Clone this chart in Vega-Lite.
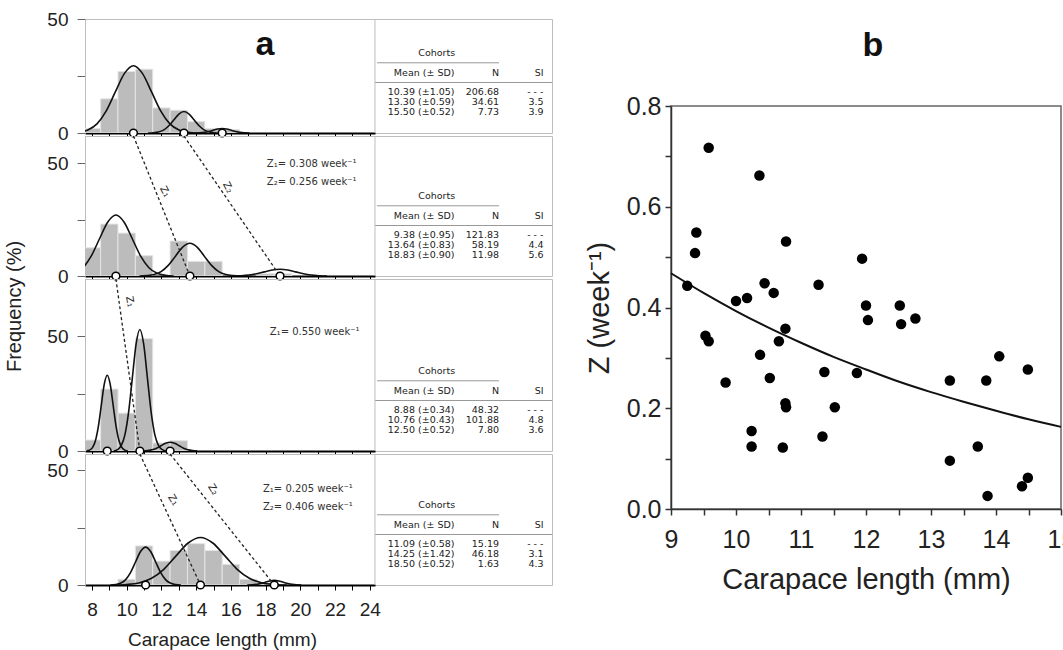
{
  "$schema": "https://vega.github.io/schema/vega-lite/v6.json",
  "padding": {"left": 5, "top": 9, "right": 0, "bottom": 0},
  "config": {
    "font": "Liberation Sans",
    "view": {"stroke": "#bdbdbd", "strokeWidth": 1},
    "axis": {"grid": false, "labelOverlap": false, "labelFlush": false, "labelColor": "#222", "titleColor": "#222", "titleFontWeight": "normal", "labelFont": "Liberation Sans", "titleFont": "Liberation Sans"}
  },
  "datasets": {
    "bars": [
      {"date": "Apr 16", "L": 7.5, "hi": 8.5, "f": 2},
      {"date": "Apr 16", "L": 8.5, "hi": 9.5, "f": 15},
      {"date": "Apr 16", "L": 9.5, "hi": 10.5, "f": 27},
      {"date": "Apr 16", "L": 10.5, "hi": 11.5, "f": 28},
      {"date": "Apr 16", "L": 11.5, "hi": 12.5, "f": 11},
      {"date": "Apr 16", "L": 12.5, "hi": 13.5, "f": 10},
      {"date": "Apr 16", "L": 13.5, "hi": 14.5, "f": 5},
      {"date": "Apr 16", "L": 14.5, "hi": 15.5, "f": 2},
      {"date": "Apr 16", "L": 15.5, "hi": 16.5, "f": 1.5},
      {"date": "May 15", "L": 7.5, "hi": 8.5, "f": 12.5},
      {"date": "May 15", "L": 8.5, "hi": 9.5, "f": 23},
      {"date": "May 15", "L": 9.5, "hi": 10.5, "f": 19},
      {"date": "May 15", "L": 10.5, "hi": 11.5, "f": 9},
      {"date": "May 15", "L": 12.5, "hi": 13.5, "f": 15.5},
      {"date": "May 15", "L": 13.5, "hi": 14.5, "f": 6.5},
      {"date": "May 15", "L": 14.5, "hi": 15.5, "f": 6.5},
      {"date": "May 15", "L": 17.5, "hi": 18.5, "f": 1},
      {"date": "May 15", "L": 18.5, "hi": 19.5, "f": 1},
      {"date": "Jun 15", "L": 7.5, "hi": 8.5, "f": 4.8},
      {"date": "Jun 15", "L": 8.5, "hi": 9.5, "f": 27},
      {"date": "Jun 15", "L": 9.5, "hi": 10.5, "f": 16.5},
      {"date": "Jun 15", "L": 10.5, "hi": 11.5, "f": 49},
      {"date": "Jun 15", "L": 11.5, "hi": 12.5, "f": 3.5},
      {"date": "Jun 15", "L": 12.5, "hi": 13.5, "f": 4.5},
      {"date": "Jul 16", "L": 9.5, "hi": 10.5, "f": 2.5},
      {"date": "Jul 16", "L": 10.5, "hi": 11.5, "f": 17},
      {"date": "Jul 16", "L": 11.5, "hi": 12.5, "f": 10.4},
      {"date": "Jul 16", "L": 12.5, "hi": 13.5, "f": 15},
      {"date": "Jul 16", "L": 13.5, "hi": 14.5, "f": 18},
      {"date": "Jul 16", "L": 14.5, "hi": 15.5, "f": 15},
      {"date": "Jul 16", "L": 15.5, "hi": 16.5, "f": 9},
      {"date": "Jul 16", "L": 16.5, "hi": 17.5, "f": 2.5},
      {"date": "Jul 16", "L": 17.5, "hi": 18.5, "f": 1}
    ],
    "curves": [
      {"date": "Apr 16", "c": 1, "L": 6.715, "f": 0}, {"date": "Apr 16", "c": 1, "L": 7.24, "f": 0.33}, {"date": "Apr 16", "c": 1, "L": 7.765, "f": 1.3}, {"date": "Apr 16", "c": 1, "L": 8.29, "f": 3.99}, {"date": "Apr 16", "c": 1, "L": 8.815, "f": 9.58}, {"date": "Apr 16", "c": 1, "L": 9.34, "f": 17.89}, {"date": "Apr 16", "c": 1, "L": 9.865, "f": 26.03}, {"date": "Apr 16", "c": 1, "L": 10.39, "f": 29.5}, {"date": "Apr 16", "c": 1, "L": 10.915, "f": 26.03}, {"date": "Apr 16", "c": 1, "L": 11.44, "f": 17.89}, {"date": "Apr 16", "c": 1, "L": 11.965, "f": 9.58}, {"date": "Apr 16", "c": 1, "L": 12.49, "f": 3.99}, {"date": "Apr 16", "c": 1, "L": 13.015, "f": 1.3}, {"date": "Apr 16", "c": 1, "L": 13.54, "f": 0.33}, {"date": "Apr 16", "c": 1, "L": 14.065, "f": 0},
      {"date": "Apr 16", "c": 2, "L": 11.235, "f": 0}, {"date": "Apr 16", "c": 2, "L": 11.53, "f": 0.1}, {"date": "Apr 16", "c": 2, "L": 11.825, "f": 0.41}, {"date": "Apr 16", "c": 2, "L": 12.12, "f": 1.27}, {"date": "Apr 16", "c": 2, "L": 12.415, "f": 3.05}, {"date": "Apr 16", "c": 2, "L": 12.71, "f": 5.7}, {"date": "Apr 16", "c": 2, "L": 13.005, "f": 8.3}, {"date": "Apr 16", "c": 2, "L": 13.3, "f": 9.4}, {"date": "Apr 16", "c": 2, "L": 13.595, "f": 8.3}, {"date": "Apr 16", "c": 2, "L": 13.89, "f": 5.7}, {"date": "Apr 16", "c": 2, "L": 14.185, "f": 3.05}, {"date": "Apr 16", "c": 2, "L": 14.48, "f": 1.27}, {"date": "Apr 16", "c": 2, "L": 14.775, "f": 0.41}, {"date": "Apr 16", "c": 2, "L": 15.07, "f": 0.1}, {"date": "Apr 16", "c": 2, "L": 15.365, "f": 0},
      {"date": "Apr 16", "c": 3, "L": 13.94, "f": 0}, {"date": "Apr 16", "c": 3, "L": 14.2, "f": 0.09}, {"date": "Apr 16", "c": 3, "L": 14.46, "f": 0.27}, {"date": "Apr 16", "c": 3, "L": 14.72, "f": 0.65}, {"date": "Apr 16", "c": 3, "L": 14.98, "f": 1.21}, {"date": "Apr 16", "c": 3, "L": 15.24, "f": 1.77}, {"date": "Apr 16", "c": 3, "L": 15.5, "f": 2.0}, {"date": "Apr 16", "c": 3, "L": 15.76, "f": 1.77}, {"date": "Apr 16", "c": 3, "L": 16.02, "f": 1.21}, {"date": "Apr 16", "c": 3, "L": 16.28, "f": 0.65}, {"date": "Apr 16", "c": 3, "L": 16.54, "f": 0.27}, {"date": "Apr 16", "c": 3, "L": 16.8, "f": 0.09}, {"date": "Apr 16", "c": 3, "L": 17.06, "f": 0},
      {"date": "May 15", "c": 1, "L": 6.055, "f": 0}, {"date": "May 15", "c": 1, "L": 6.53, "f": 0.3}, {"date": "May 15", "c": 1, "L": 7.005, "f": 1.19}, {"date": "May 15", "c": 1, "L": 7.48, "f": 3.65}, {"date": "May 15", "c": 1, "L": 7.955, "f": 8.77}, {"date": "May 15", "c": 1, "L": 8.43, "f": 16.38}, {"date": "May 15", "c": 1, "L": 8.905, "f": 23.83}, {"date": "May 15", "c": 1, "L": 9.38, "f": 27}, {"date": "May 15", "c": 1, "L": 9.855, "f": 23.83}, {"date": "May 15", "c": 1, "L": 10.33, "f": 16.38}, {"date": "May 15", "c": 1, "L": 10.805, "f": 8.77}, {"date": "May 15", "c": 1, "L": 11.28, "f": 3.65}, {"date": "May 15", "c": 1, "L": 11.755, "f": 1.19}, {"date": "May 15", "c": 1, "L": 12.23, "f": 0.3}, {"date": "May 15", "c": 1, "L": 12.705, "f": 0},
      {"date": "May 15", "c": 2, "L": 10.735, "f": 0}, {"date": "May 15", "c": 2, "L": 11.15, "f": 0.16}, {"date": "May 15", "c": 2, "L": 11.565, "f": 0.64}, {"date": "May 15", "c": 2, "L": 11.98, "f": 1.96}, {"date": "May 15", "c": 2, "L": 12.395, "f": 4.71}, {"date": "May 15", "c": 2, "L": 12.81, "f": 8.79}, {"date": "May 15", "c": 2, "L": 13.225, "f": 12.8}, {"date": "May 15", "c": 2, "L": 13.64, "f": 14.5}, {"date": "May 15", "c": 2, "L": 14.055, "f": 12.8}, {"date": "May 15", "c": 2, "L": 14.47, "f": 8.79}, {"date": "May 15", "c": 2, "L": 14.885, "f": 4.71}, {"date": "May 15", "c": 2, "L": 15.3, "f": 1.96}, {"date": "May 15", "c": 2, "L": 15.715, "f": 0.64}, {"date": "May 15", "c": 2, "L": 16.13, "f": 0.16}, {"date": "May 15", "c": 2, "L": 16.545, "f": 0},
      {"date": "May 15", "c": 3, "L": 16.13, "f": 0}, {"date": "May 15", "c": 3, "L": 16.58, "f": 0.13}, {"date": "May 15", "c": 3, "L": 17.03, "f": 0.41}, {"date": "May 15", "c": 3, "L": 17.48, "f": 0.97}, {"date": "May 15", "c": 3, "L": 17.93, "f": 1.82}, {"date": "May 15", "c": 3, "L": 18.38, "f": 2.65}, {"date": "May 15", "c": 3, "L": 18.83, "f": 3.0}, {"date": "May 15", "c": 3, "L": 19.28, "f": 2.65}, {"date": "May 15", "c": 3, "L": 19.73, "f": 1.82}, {"date": "May 15", "c": 3, "L": 20.18, "f": 0.97}, {"date": "May 15", "c": 3, "L": 20.63, "f": 0.41}, {"date": "May 15", "c": 3, "L": 21.08, "f": 0.13}, {"date": "May 15", "c": 3, "L": 21.53, "f": 0},
      {"date": "Jun 15", "c": 1, "L": 7.69, "f": 0.07}, {"date": "Jun 15", "c": 1, "L": 7.86, "f": 0.37}, {"date": "Jun 15", "c": 1, "L": 8.03, "f": 1.45}, {"date": "Jun 15", "c": 1, "L": 8.2, "f": 4.47}, {"date": "Jun 15", "c": 1, "L": 8.37, "f": 10.72}, {"date": "Jun 15", "c": 1, "L": 8.54, "f": 20.01}, {"date": "Jun 15", "c": 1, "L": 8.71, "f": 29.12}, {"date": "Jun 15", "c": 1, "L": 8.88, "f": 33}, {"date": "Jun 15", "c": 1, "L": 9.05, "f": 29.12}, {"date": "Jun 15", "c": 1, "L": 9.22, "f": 20.01}, {"date": "Jun 15", "c": 1, "L": 9.39, "f": 10.72}, {"date": "Jun 15", "c": 1, "L": 9.56, "f": 4.47}, {"date": "Jun 15", "c": 1, "L": 9.73, "f": 1.45}, {"date": "Jun 15", "c": 1, "L": 9.9, "f": 0.37}, {"date": "Jun 15", "c": 1, "L": 10.07, "f": 0},
      {"date": "Jun 15", "c": 2, "L": 9.255, "f": 0}, {"date": "Jun 15", "c": 2, "L": 9.47, "f": 0.59}, {"date": "Jun 15", "c": 2, "L": 9.685, "f": 2.33}, {"date": "Jun 15", "c": 2, "L": 9.9, "f": 7.17}, {"date": "Jun 15", "c": 2, "L": 10.115, "f": 17.21}, {"date": "Jun 15", "c": 2, "L": 10.33, "f": 32.14}, {"date": "Jun 15", "c": 2, "L": 10.545, "f": 46.77}, {"date": "Jun 15", "c": 2, "L": 10.76, "f": 53}, {"date": "Jun 15", "c": 2, "L": 10.975, "f": 46.77}, {"date": "Jun 15", "c": 2, "L": 11.19, "f": 32.14}, {"date": "Jun 15", "c": 2, "L": 11.405, "f": 17.21}, {"date": "Jun 15", "c": 2, "L": 11.62, "f": 7.17}, {"date": "Jun 15", "c": 2, "L": 11.835, "f": 2.33}, {"date": "Jun 15", "c": 2, "L": 12.05, "f": 0.59}, {"date": "Jun 15", "c": 2, "L": 12.265, "f": 0},
      {"date": "Jun 15", "c": 3, "L": 10.94, "f": 0}, {"date": "Jun 15", "c": 3, "L": 11.2, "f": 0.17}, {"date": "Jun 15", "c": 3, "L": 11.46, "f": 0.51}, {"date": "Jun 15", "c": 3, "L": 11.72, "f": 1.23}, {"date": "Jun 15", "c": 3, "L": 11.98, "f": 2.3}, {"date": "Jun 15", "c": 3, "L": 12.24, "f": 3.35}, {"date": "Jun 15", "c": 3, "L": 12.5, "f": 3.8}, {"date": "Jun 15", "c": 3, "L": 12.76, "f": 3.35}, {"date": "Jun 15", "c": 3, "L": 13.02, "f": 2.3}, {"date": "Jun 15", "c": 3, "L": 13.28, "f": 1.23}, {"date": "Jun 15", "c": 3, "L": 13.54, "f": 0.51}, {"date": "Jun 15", "c": 3, "L": 13.8, "f": 0.17}, {"date": "Jun 15", "c": 3, "L": 14.06, "f": 0},
      {"date": "Jul 16", "c": 1, "L": 9.06, "f": 0}, {"date": "Jul 16", "c": 1, "L": 9.35, "f": 0.18}, {"date": "Jul 16", "c": 1, "L": 9.64, "f": 0.72}, {"date": "Jul 16", "c": 1, "L": 9.93, "f": 2.23}, {"date": "Jul 16", "c": 1, "L": 10.22, "f": 5.36}, {"date": "Jul 16", "c": 1, "L": 10.51, "f": 10.01}, {"date": "Jul 16", "c": 1, "L": 10.8, "f": 14.56}, {"date": "Jul 16", "c": 1, "L": 11.09, "f": 16.5}, {"date": "Jul 16", "c": 1, "L": 11.38, "f": 14.56}, {"date": "Jul 16", "c": 1, "L": 11.67, "f": 10.01}, {"date": "Jul 16", "c": 1, "L": 11.96, "f": 5.36}, {"date": "Jul 16", "c": 1, "L": 12.25, "f": 2.23}, {"date": "Jul 16", "c": 1, "L": 12.54, "f": 0.72}, {"date": "Jul 16", "c": 1, "L": 12.83, "f": 0.18}, {"date": "Jul 16", "c": 1, "L": 13.12, "f": 0},
      {"date": "Jul 16", "c": 2, "L": 9.28, "f": 0}, {"date": "Jul 16", "c": 2, "L": 9.99, "f": 0.23}, {"date": "Jul 16", "c": 2, "L": 10.7, "f": 0.91}, {"date": "Jul 16", "c": 2, "L": 11.41, "f": 2.8}, {"date": "Jul 16", "c": 2, "L": 12.12, "f": 6.72}, {"date": "Jul 16", "c": 2, "L": 12.83, "f": 12.55}, {"date": "Jul 16", "c": 2, "L": 13.54, "f": 18.27}, {"date": "Jul 16", "c": 2, "L": 14.25, "f": 20.7}, {"date": "Jul 16", "c": 2, "L": 14.96, "f": 18.27}, {"date": "Jul 16", "c": 2, "L": 15.67, "f": 12.55}, {"date": "Jul 16", "c": 2, "L": 16.38, "f": 6.72}, {"date": "Jul 16", "c": 2, "L": 17.09, "f": 2.8}, {"date": "Jul 16", "c": 2, "L": 17.8, "f": 0.91}, {"date": "Jul 16", "c": 2, "L": 18.51, "f": 0.23}, {"date": "Jul 16", "c": 2, "L": 19.22, "f": 0},
      {"date": "Jul 16", "c": 3, "L": 16.94, "f": 0}, {"date": "Jul 16", "c": 3, "L": 17.2, "f": 0.09}, {"date": "Jul 16", "c": 3, "L": 17.46, "f": 0.27}, {"date": "Jul 16", "c": 3, "L": 17.72, "f": 0.65}, {"date": "Jul 16", "c": 3, "L": 17.98, "f": 1.21}, {"date": "Jul 16", "c": 3, "L": 18.24, "f": 1.77}, {"date": "Jul 16", "c": 3, "L": 18.5, "f": 2.0}, {"date": "Jul 16", "c": 3, "L": 18.76, "f": 1.77}, {"date": "Jul 16", "c": 3, "L": 19.02, "f": 1.21}, {"date": "Jul 16", "c": 3, "L": 19.28, "f": 0.65}, {"date": "Jul 16", "c": 3, "L": 19.54, "f": 0.27}, {"date": "Jul 16", "c": 3, "L": 19.8, "f": 0.09}, {"date": "Jul 16", "c": 3, "L": 20.06, "f": 0}
    ],
    "means": [
      {"date": "Apr 16", "L": 10.39, "f": 0}, {"date": "Apr 16", "L": 13.3, "f": 0}, {"date": "Apr 16", "L": 15.5, "f": 0},
      {"date": "May 15", "L": 9.38, "f": 0}, {"date": "May 15", "L": 13.64, "f": 0}, {"date": "May 15", "L": 18.83, "f": 0},
      {"date": "Jun 15", "L": 8.88, "f": 0}, {"date": "Jun 15", "L": 10.76, "f": 0}, {"date": "Jun 15", "L": 12.5, "f": 0},
      {"date": "Jul 16", "L": 11.09, "f": 0}, {"date": "Jul 16", "L": 14.25, "f": 0}, {"date": "Jul 16", "L": 18.5, "f": 0}
    ],
    "links": [
      {"date": "May 15", "link": "a", "L": 10.39, "f": 62}, {"date": "May 15", "link": "a", "L": 13.64, "f": 0},
      {"date": "May 15", "link": "b", "L": 13.3, "f": 62}, {"date": "May 15", "link": "b", "L": 18.83, "f": 0},
      {"date": "Jun 15", "link": "a", "L": 9.38, "f": 75}, {"date": "Jun 15", "link": "a", "L": 10.76, "f": 0},
      {"date": "Jul 16", "link": "a", "L": 10.76, "f": 57}, {"date": "Jul 16", "link": "a", "L": 14.25, "f": 0},
      {"date": "Jul 16", "link": "b", "L": 12.5, "f": 57}, {"date": "Jul 16", "link": "b", "L": 18.5, "f": 0}
    ],
    "notes": [
      {"date": "May 15", "label": "Z₁= 0.308 week⁻¹", "L": 18.07, "f": 49.4},
      {"date": "May 15", "label": "Z₂= 0.256 week⁻¹", "L": 18.07, "f": 41.8},
      {"date": "Jun 15", "label": "Z₁= 0.550 week⁻¹", "L": 18.24, "f": 52},
      {"date": "Jul 16", "label": "Z₁= 0.205 week⁻¹", "L": 17.85, "f": 41.7},
      {"date": "Jul 16", "label": "Z₂= 0.406 week⁻¹", "L": 17.85, "f": 33.8}
    ],
    "zlab": [
      {"date": "May 15", "label": "Z₁", "L": 12.2, "f": 37.4},
      {"date": "May 15", "label": "Z₂", "L": 15.83, "f": 39.2},
      {"date": "Jun 15", "label": "Z₁", "L": 10.19, "f": 65.2},
      {"date": "Jul 16", "label": "Z₁", "L": 12.68, "f": 37},
      {"date": "Jul 16", "label": "Z₂", "L": 14.98, "f": 41.6}
    ],
    "cells": [
      {"date": "Apr 16", "slot": "r1", "column": "Mean (± SD)", "text": "10.39 (±1.05)"}, {"date": "Apr 16", "slot": "r1", "column": "N", "text": "206.68"}, {"date": "Apr 16", "slot": "r1", "column": "SI", "text": "- - -"},
      {"date": "Apr 16", "slot": "r2", "column": "Mean (± SD)", "text": "13.30 (±0.59)"}, {"date": "Apr 16", "slot": "r2", "column": "N", "text": "34.61"}, {"date": "Apr 16", "slot": "r2", "column": "SI", "text": "3.5"},
      {"date": "Apr 16", "slot": "r3", "column": "Mean (± SD)", "text": "15.50 (±0.52)"}, {"date": "Apr 16", "slot": "r3", "column": "N", "text": "7.73"}, {"date": "Apr 16", "slot": "r3", "column": "SI", "text": "3.9"},
      {"date": "May 15", "slot": "r1", "column": "Mean (± SD)", "text": "9.38 (±0.95)"}, {"date": "May 15", "slot": "r1", "column": "N", "text": "121.83"}, {"date": "May 15", "slot": "r1", "column": "SI", "text": "- - -"},
      {"date": "May 15", "slot": "r2", "column": "Mean (± SD)", "text": "13.64 (±0.83)"}, {"date": "May 15", "slot": "r2", "column": "N", "text": "58.19"}, {"date": "May 15", "slot": "r2", "column": "SI", "text": "4.4"},
      {"date": "May 15", "slot": "r3", "column": "Mean (± SD)", "text": "18.83 (±0.90)"}, {"date": "May 15", "slot": "r3", "column": "N", "text": "11.98"}, {"date": "May 15", "slot": "r3", "column": "SI", "text": "5.6"},
      {"date": "Jun 15", "slot": "r1", "column": "Mean (± SD)", "text": "8.88 (±0.34)"}, {"date": "Jun 15", "slot": "r1", "column": "N", "text": "48.32"}, {"date": "Jun 15", "slot": "r1", "column": "SI", "text": "- - -"},
      {"date": "Jun 15", "slot": "r2", "column": "Mean (± SD)", "text": "10.76 (±0.43)"}, {"date": "Jun 15", "slot": "r2", "column": "N", "text": "101.88"}, {"date": "Jun 15", "slot": "r2", "column": "SI", "text": "4.8"},
      {"date": "Jun 15", "slot": "r3", "column": "Mean (± SD)", "text": "12.50 (±0.52)"}, {"date": "Jun 15", "slot": "r3", "column": "N", "text": "7.80"}, {"date": "Jun 15", "slot": "r3", "column": "SI", "text": "3.6"},
      {"date": "Jul 16", "slot": "r1", "column": "Mean (± SD)", "text": "11.09 (±0.58)"}, {"date": "Jul 16", "slot": "r1", "column": "N", "text": "15.19"}, {"date": "Jul 16", "slot": "r1", "column": "SI", "text": "- - -"},
      {"date": "Jul 16", "slot": "r2", "column": "Mean (± SD)", "text": "14.25 (±1.42)"}, {"date": "Jul 16", "slot": "r2", "column": "N", "text": "46.18"}, {"date": "Jul 16", "slot": "r2", "column": "SI", "text": "3.1"},
      {"date": "Jul 16", "slot": "r3", "column": "Mean (± SD)", "text": "18.50 (±0.52)"}, {"date": "Jul 16", "slot": "r3", "column": "N", "text": "1.63"}, {"date": "Jul 16", "slot": "r3", "column": "SI", "text": "4.3"}
    ],
    "thead": [
      {"slot": "header", "column": "Mean (± SD)", "text": "Mean (± SD)"},
      {"slot": "header", "column": "N", "text": "N"},
      {"slot": "header", "column": "SI", "text": "SI"}
    ],
    "tcoh": [{"slot": "cohorts", "column": "Mean (± SD)", "text": "Cohorts"}],
    "trule1": [{"slot": "rule1", "column": "Mean (± SD)", "column2": "N"}],
    "trule2": [{"slot": "rule2", "column": "Mean (± SD)", "column2": "SI"}],
    "tdiv": [{"column": "Mean (± SD)"}],
    "scatter": [
      {"L": 9.58, "Z": 0.717}, {"L": 10.36, "Z": 0.662}, {"L": 9.39, "Z": 0.549}, {"L": 9.37, "Z": 0.508},
      {"L": 10.77, "Z": 0.531}, {"L": 11.94, "Z": 0.497}, {"L": 9.25, "Z": 0.443}, {"L": 10.44, "Z": 0.448},
      {"L": 10.58, "Z": 0.429}, {"L": 11.27, "Z": 0.445}, {"L": 10.0, "Z": 0.413}, {"L": 10.17, "Z": 0.419},
      {"L": 12.0, "Z": 0.404}, {"L": 12.52, "Z": 0.404}, {"L": 12.03, "Z": 0.375}, {"L": 12.54, "Z": 0.367},
      {"L": 12.76, "Z": 0.378}, {"L": 10.76, "Z": 0.358}, {"L": 10.66, "Z": 0.333}, {"L": 9.53, "Z": 0.344},
      {"L": 9.58, "Z": 0.333}, {"L": 10.37, "Z": 0.306}, {"L": 14.05, "Z": 0.303}, {"L": 9.84, "Z": 0.251},
      {"L": 10.52, "Z": 0.26}, {"L": 11.36, "Z": 0.272}, {"L": 11.86, "Z": 0.27}, {"L": 13.29, "Z": 0.255},
      {"L": 13.85, "Z": 0.255}, {"L": 14.49, "Z": 0.277}, {"L": 10.76, "Z": 0.21}, {"L": 10.77, "Z": 0.202},
      {"L": 11.52, "Z": 0.202}, {"L": 10.24, "Z": 0.155}, {"L": 10.24, "Z": 0.124}, {"L": 10.72, "Z": 0.122},
      {"L": 11.33, "Z": 0.144}, {"L": 13.29, "Z": 0.096}, {"L": 13.72, "Z": 0.124}, {"L": 13.87, "Z": 0.026},
      {"L": 14.4, "Z": 0.045}, {"L": 14.49, "Z": 0.062}
    ],
    "fit": [
      {"L": 9, "Z": 0.468}, {"L": 9.5, "Z": 0.429}, {"L": 10, "Z": 0.393}, {"L": 10.5, "Z": 0.36},
      {"L": 11, "Z": 0.33}, {"L": 11.5, "Z": 0.302}, {"L": 12, "Z": 0.277}, {"L": 12.5, "Z": 0.253},
      {"L": 13, "Z": 0.232}, {"L": 13.5, "Z": 0.213}, {"L": 14, "Z": 0.195}, {"L": 14.5, "Z": 0.178},
      {"L": 15, "Z": 0.163}
    ]
  },
  "spacing": 31,
  "hconcat": [
    {
      "spacing": 3,
      "bounds": "flush",
      "title": {"text": "Frequency (%)", "orient": "left", "anchor": "middle", "fontSize": 20, "fontWeight": "normal", "font": "Liberation Sans", "color": "#222", "offset": 21, "dx": 23},
      "vconcat": [
        {
          "width": 467, "height": 114,
          "resolve": {"scale": {"x": "independent", "y": "independent"}},
          "layer": [
            {
              "encoding": {
                "x": {"field": "L", "type": "quantitative", "scale": {"domain": [7.6, 24.3], "range": [0, 290], "nice": false, "zero": false},
                      "axis": {"values": [8,9,10,11,12,13,14,15,16,17,18,19,20,21,22,23,24], "labels": false, "title": null, "domainColor": "#000", "domainWidth": 2, "tickColor": "#000", "tickSize": 3}},
                "y": {"field": "f", "type": "quantitative", "scale": {"domain": [0, 50], "nice": false},
                      "axis": {"values": [0, 25, 50], "labelExpr": "datum.value == 25 ? '' : datum.label", "title": null, "tickSize": 8, "tickColor": "#666", "domainColor": "#bdbdbd", "labelFontSize": 19, "labelPadding": 9}}
              },
              "layer": [
                {"data": {"name": "bars"}, "transform": [{"filter": "datum.date == 'Apr 16'"}], "mark": {"type": "rect", "fill": "#bcbcbc", "stroke": "#e4e4e4", "strokeWidth": 1, "clip": true}, "encoding": {"x2": {"field": "hi"}, "y2": {"datum": 0}}},
                {"data": {"name": "curves"}, "transform": [{"filter": "datum.date == 'Apr 16'"}], "mark": {"type": "line", "interpolate": "monotone", "color": "#111", "strokeWidth": 1.6, "clip": true}, "encoding": {"detail": {"field": "c", "type": "nominal"}}},
                {"data": {"name": "means"}, "transform": [{"filter": "datum.date == 'Apr 16'"}], "mark": {"type": "point", "shape": "circle", "filled": true, "fill": "white", "stroke": "black", "strokeWidth": 1.5, "size": 60, "opacity": 1}},
                {"data": {"values": [{"date": "Apr 16"}]}, "mark": {"type": "text", "align": "right", "baseline": "bottom", "dy": -3, "fontWeight": "bold", "fontSize": 10, "font": "DejaVu Sans", "color": "#222"}, "encoding": {"x": {"datum": 24.1}, "y": {"value": "height"}, "text": {"field": "date"}}},
                {"data": {"values": [{"panel": "a", "L": 17.96, "f": 38.6}]}, "mark": {"type": "text", "fontSize": 34, "fontWeight": "bold", "baseline": "middle", "color": "#111"}, "encoding": {"text": {"field": "panel"}}}
              ]
            },
            {
              "layer": [
                {"data": {"name": "cells"}, "transform": [{"filter": "datum.date == 'Apr 16'"}], "mark": {"type": "text", "align": "right", "baseline": "middle", "fontSize": 9.5, "font": "DejaVu Sans", "color": "#222"},
                 "encoding": {"x": {"field": "column", "type": "nominal", "bandPosition": 1, "scale": {"type": "band", "domain": ["Mean (± SD)", "N", "SI"], "range": [325, 458.5], "paddingInner": 0, "paddingOuter": 0}, "axis": null},
                              "y": {"field": "slot", "type": "nominal", "scale": {"type": "point", "domain": ["cohorts", "rule1", "header", "rule2", "r1", "r2", "r3"], "range": [29, 98]}, "axis": null},
                              "text": {"field": "text"}}},
                {"data": {"name": "thead"}, "mark": {"type": "text", "align": "right", "baseline": "middle", "fontSize": 9.5, "font": "DejaVu Sans", "color": "#222"},
                 "encoding": {"x": {"field": "column", "type": "nominal", "bandPosition": 1}, "y": {"field": "slot", "type": "nominal"}, "text": {"field": "text"}}},
                {"data": {"name": "tcoh"}, "mark": {"type": "text", "align": "center", "baseline": "middle", "fontSize": 9.5, "font": "DejaVu Sans", "color": "#222"},
                 "encoding": {"x": {"field": "column", "type": "nominal", "bandPosition": 0.6}, "y": {"field": "slot", "type": "nominal"}, "text": {"field": "text"}}},
                {"data": {"name": "trule1"}, "mark": {"type": "rule", "color": "#999", "strokeWidth": 1},
                 "encoding": {"x": {"field": "column", "type": "nominal", "bandPosition": -0.74}, "x2": {"field": "column2", "bandPosition": 1}, "y": {"field": "slot", "type": "nominal"}}},
                {"data": {"name": "trule2"}, "mark": {"type": "rule", "color": "#999", "strokeWidth": 1},
                 "encoding": {"x": {"field": "column", "type": "nominal", "bandPosition": -0.787}, "x2": {"field": "column2", "bandPosition": 1.19}, "y": {"field": "slot", "type": "nominal"}}},
                {"data": {"name": "tdiv"}, "mark": {"type": "rule", "color": "#bdbdbd", "strokeWidth": 1},
                 "encoding": {"x": {"field": "column", "type": "nominal", "bandPosition": -0.787}}}
              ]
            }
          ]
        },
        {
          "width": 467, "height": 140,
          "resolve": {"scale": {"x": "independent", "y": "independent"}},
          "layer": [
            {
              "encoding": {
                "x": {"field": "L", "type": "quantitative", "scale": {"domain": [7.6, 24.3], "range": [0, 290], "nice": false, "zero": false},
                      "axis": {"values": [8,9,10,11,12,13,14,15,16,17,18,19,20,21,22,23,24], "labels": false, "title": null, "domainColor": "#000", "domainWidth": 2, "tickColor": "#000", "tickSize": 3}},
                "y": {"field": "f", "type": "quantitative", "scale": {"domain": [0, 62], "nice": false},
                      "axis": {"values": [0, 25, 50], "labelExpr": "datum.value == 25 ? '' : datum.label", "title": null, "tickSize": 8, "tickColor": "#666", "domainColor": "#bdbdbd", "labelFontSize": 19, "labelPadding": 9}}
              },
              "layer": [
                {"data": {"name": "bars"}, "transform": [{"filter": "datum.date == 'May 15'"}], "mark": {"type": "rect", "fill": "#bcbcbc", "stroke": "#e4e4e4", "strokeWidth": 1, "clip": true}, "encoding": {"x2": {"field": "hi"}, "y2": {"datum": 0}}},
                {"data": {"name": "curves"}, "transform": [{"filter": "datum.date == 'May 15'"}], "mark": {"type": "line", "interpolate": "monotone", "color": "#111", "strokeWidth": 1.6, "clip": true}, "encoding": {"detail": {"field": "c", "type": "nominal"}}},
                {"data": {"name": "links"}, "transform": [{"filter": "datum.date == 'May 15'"}], "mark": {"type": "line", "strokeDash": [3, 2.5], "color": "#222", "strokeWidth": 1.3}, "encoding": {"detail": {"field": "link", "type": "nominal"}}},
                {"data": {"name": "means"}, "transform": [{"filter": "datum.date == 'May 15'"}], "mark": {"type": "point", "shape": "circle", "filled": true, "fill": "white", "stroke": "black", "strokeWidth": 1.5, "size": 60, "opacity": 1}},
                {"data": {"values": [{"date": "May 15"}]}, "mark": {"type": "text", "align": "right", "baseline": "bottom", "dy": -3, "fontWeight": "bold", "fontSize": 10, "font": "DejaVu Sans", "color": "#222"}, "encoding": {"x": {"datum": 24.1}, "y": {"value": "height"}, "text": {"field": "date"}}},
                {"data": {"name": "notes"}, "transform": [{"filter": "datum.date == 'May 15'"}], "mark": {"type": "text", "align": "left", "baseline": "middle", "fontSize": 10, "font": "DejaVu Sans", "color": "#333"}, "encoding": {"text": {"field": "label"}}},
                {"data": {"name": "zlab"}, "transform": [{"filter": "datum.date == 'May 15'"}], "mark": {"type": "text", "align": "center", "baseline": "middle", "angle": 62, "fontSize": 10, "font": "DejaVu Sans", "color": "#222"}, "encoding": {"text": {"field": "label"}}}
              ]
            },
            {
              "layer": [
                {"data": {"name": "cells"}, "transform": [{"filter": "datum.date == 'May 15'"}], "mark": {"type": "text", "align": "right", "baseline": "middle", "fontSize": 9.5, "font": "DejaVu Sans", "color": "#222"},
                 "encoding": {"x": {"field": "column", "type": "nominal", "bandPosition": 1, "scale": {"type": "band", "domain": ["Mean (± SD)", "N", "SI"], "range": [325, 458.5], "paddingInner": 0, "paddingOuter": 0}, "axis": null},
                              "y": {"field": "slot", "type": "nominal", "scale": {"type": "point", "domain": ["cohorts", "rule1", "header", "rule2", "r1", "r2", "r3"], "range": [55, 124]}, "axis": null},
                              "text": {"field": "text"}}},
                {"data": {"name": "thead"}, "mark": {"type": "text", "align": "right", "baseline": "middle", "fontSize": 9.5, "font": "DejaVu Sans", "color": "#222"},
                 "encoding": {"x": {"field": "column", "type": "nominal", "bandPosition": 1}, "y": {"field": "slot", "type": "nominal"}, "text": {"field": "text"}}},
                {"data": {"name": "tcoh"}, "mark": {"type": "text", "align": "center", "baseline": "middle", "fontSize": 9.5, "font": "DejaVu Sans", "color": "#222"},
                 "encoding": {"x": {"field": "column", "type": "nominal", "bandPosition": 0.6}, "y": {"field": "slot", "type": "nominal"}, "text": {"field": "text"}}},
                {"data": {"name": "trule1"}, "mark": {"type": "rule", "color": "#999", "strokeWidth": 1},
                 "encoding": {"x": {"field": "column", "type": "nominal", "bandPosition": -0.74}, "x2": {"field": "column2", "bandPosition": 1}, "y": {"field": "slot", "type": "nominal"}}},
                {"data": {"name": "trule2"}, "mark": {"type": "rule", "color": "#999", "strokeWidth": 1},
                 "encoding": {"x": {"field": "column", "type": "nominal", "bandPosition": -0.787}, "x2": {"field": "column2", "bandPosition": 1.19}, "y": {"field": "slot", "type": "nominal"}}},
                {"data": {"name": "tdiv"}, "mark": {"type": "rule", "color": "#bdbdbd", "strokeWidth": 1},
                 "encoding": {"x": {"field": "column", "type": "nominal", "bandPosition": -0.787}}}
              ]
            }
          ]
        },
        {
          "width": 467, "height": 172,
          "resolve": {"scale": {"x": "independent", "y": "independent"}},
          "layer": [
            {
              "encoding": {
                "x": {"field": "L", "type": "quantitative", "scale": {"domain": [7.6, 24.3], "range": [0, 290], "nice": false, "zero": false},
                      "axis": {"values": [8,9,10,11,12,13,14,15,16,17,18,19,20,21,22,23,24], "labels": false, "title": null, "domainColor": "#000", "domainWidth": 2, "tickColor": "#000", "tickSize": 3}},
                "y": {"field": "f", "type": "quantitative", "scale": {"domain": [0, 75], "nice": false},
                      "axis": {"values": [0, 25, 50], "labelExpr": "datum.value == 25 ? '' : datum.label", "title": null, "tickSize": 8, "tickColor": "#666", "domainColor": "#bdbdbd", "labelFontSize": 19, "labelPadding": 9}}
              },
              "layer": [
                {"data": {"name": "bars"}, "transform": [{"filter": "datum.date == 'Jun 15'"}], "mark": {"type": "rect", "fill": "#bcbcbc", "stroke": "#e4e4e4", "strokeWidth": 1, "clip": true}, "encoding": {"x2": {"field": "hi"}, "y2": {"datum": 0}}},
                {"data": {"name": "curves"}, "transform": [{"filter": "datum.date == 'Jun 15'"}], "mark": {"type": "line", "interpolate": "monotone", "color": "#111", "strokeWidth": 1.6, "clip": true}, "encoding": {"detail": {"field": "c", "type": "nominal"}}},
                {"data": {"name": "links"}, "transform": [{"filter": "datum.date == 'Jun 15'"}], "mark": {"type": "line", "strokeDash": [3, 2.5], "color": "#222", "strokeWidth": 1.3}, "encoding": {"detail": {"field": "link", "type": "nominal"}}},
                {"data": {"name": "means"}, "transform": [{"filter": "datum.date == 'Jun 15'"}], "mark": {"type": "point", "shape": "circle", "filled": true, "fill": "white", "stroke": "black", "strokeWidth": 1.5, "size": 60, "opacity": 1}},
                {"data": {"values": [{"date": "Jun 15"}]}, "mark": {"type": "text", "align": "right", "baseline": "bottom", "dy": -3, "fontWeight": "bold", "fontSize": 10, "font": "DejaVu Sans", "color": "#222"}, "encoding": {"x": {"datum": 24.1}, "y": {"value": "height"}, "text": {"field": "date"}}},
                {"data": {"name": "notes"}, "transform": [{"filter": "datum.date == 'Jun 15'"}], "mark": {"type": "text", "align": "left", "baseline": "middle", "fontSize": 10, "font": "DejaVu Sans", "color": "#333"}, "encoding": {"text": {"field": "label"}}},
                {"data": {"name": "zlab"}, "transform": [{"filter": "datum.date == 'Jun 15'"}], "mark": {"type": "text", "align": "center", "baseline": "middle", "angle": 80, "fontSize": 10, "font": "DejaVu Sans", "color": "#222"}, "encoding": {"text": {"field": "label"}}}
              ]
            },
            {
              "layer": [
                {"data": {"name": "cells"}, "transform": [{"filter": "datum.date == 'Jun 15'"}], "mark": {"type": "text", "align": "right", "baseline": "middle", "fontSize": 9.5, "font": "DejaVu Sans", "color": "#222"},
                 "encoding": {"x": {"field": "column", "type": "nominal", "bandPosition": 1, "scale": {"type": "band", "domain": ["Mean (± SD)", "N", "SI"], "range": [325, 458.5], "paddingInner": 0, "paddingOuter": 0}, "axis": null},
                              "y": {"field": "slot", "type": "nominal", "scale": {"type": "point", "domain": ["cohorts", "rule1", "header", "rule2", "r1", "r2", "r3"], "range": [87, 156]}, "axis": null},
                              "text": {"field": "text"}}},
                {"data": {"name": "thead"}, "mark": {"type": "text", "align": "right", "baseline": "middle", "fontSize": 9.5, "font": "DejaVu Sans", "color": "#222"},
                 "encoding": {"x": {"field": "column", "type": "nominal", "bandPosition": 1}, "y": {"field": "slot", "type": "nominal"}, "text": {"field": "text"}}},
                {"data": {"name": "tcoh"}, "mark": {"type": "text", "align": "center", "baseline": "middle", "fontSize": 9.5, "font": "DejaVu Sans", "color": "#222"},
                 "encoding": {"x": {"field": "column", "type": "nominal", "bandPosition": 0.6}, "y": {"field": "slot", "type": "nominal"}, "text": {"field": "text"}}},
                {"data": {"name": "trule1"}, "mark": {"type": "rule", "color": "#999", "strokeWidth": 1},
                 "encoding": {"x": {"field": "column", "type": "nominal", "bandPosition": -0.74}, "x2": {"field": "column2", "bandPosition": 1}, "y": {"field": "slot", "type": "nominal"}}},
                {"data": {"name": "trule2"}, "mark": {"type": "rule", "color": "#999", "strokeWidth": 1},
                 "encoding": {"x": {"field": "column", "type": "nominal", "bandPosition": -0.787}, "x2": {"field": "column2", "bandPosition": 1.19}, "y": {"field": "slot", "type": "nominal"}}},
                {"data": {"name": "tdiv"}, "mark": {"type": "rule", "color": "#bdbdbd", "strokeWidth": 1},
                 "encoding": {"x": {"field": "column", "type": "nominal", "bandPosition": -0.787}}}
              ]
            }
          ]
        },
        {
          "width": 467, "height": 131,
          "resolve": {"scale": {"x": "independent", "y": "independent"}},
          "layer": [
            {
              "encoding": {
                "x": {"field": "L", "type": "quantitative", "scale": {"domain": [7.6, 24.3], "range": [0, 290], "nice": false, "zero": false},
                      "axis": {"values": [8,9,10,11,12,13,14,15,16,17,18,19,20,21,22,23,24], "labelExpr": "datum.value % 2 == 0 ? datum.label : ''", "labelFontSize": 19, "labelPadding": 10, "title": "Carapace length (mm)", "titleFontSize": 19, "titlePadding": 11, "titleX": 137, "domainColor": "#000", "domainWidth": 2, "tickColor": "#000", "tickSize": 5}},
                "y": {"field": "f", "type": "quantitative", "scale": {"domain": [0, 57], "nice": false},
                      "axis": {"values": [0, 25, 50], "labelExpr": "datum.value == 25 ? '' : datum.label", "title": null, "tickSize": 8, "tickColor": "#666", "domainColor": "#bdbdbd", "labelFontSize": 19, "labelPadding": 9}}
              },
              "layer": [
                {"data": {"name": "bars"}, "transform": [{"filter": "datum.date == 'Jul 16'"}], "mark": {"type": "rect", "fill": "#bcbcbc", "stroke": "#e4e4e4", "strokeWidth": 1, "clip": true}, "encoding": {"x2": {"field": "hi"}, "y2": {"datum": 0}}},
                {"data": {"name": "curves"}, "transform": [{"filter": "datum.date == 'Jul 16'"}], "mark": {"type": "line", "interpolate": "monotone", "color": "#111", "strokeWidth": 1.6, "clip": true}, "encoding": {"detail": {"field": "c", "type": "nominal"}}},
                {"data": {"name": "links"}, "transform": [{"filter": "datum.date == 'Jul 16'"}], "mark": {"type": "line", "strokeDash": [3, 2.5], "color": "#222", "strokeWidth": 1.3}, "encoding": {"detail": {"field": "link", "type": "nominal"}}},
                {"data": {"name": "means"}, "transform": [{"filter": "datum.date == 'Jul 16'"}], "mark": {"type": "point", "shape": "circle", "filled": true, "fill": "white", "stroke": "black", "strokeWidth": 1.5, "size": 60, "opacity": 1}},
                {"data": {"values": [{"date": "Jul 16"}]}, "mark": {"type": "text", "align": "right", "baseline": "bottom", "dy": -3, "fontWeight": "bold", "fontSize": 10, "font": "DejaVu Sans", "color": "#222"}, "encoding": {"x": {"datum": 24.1}, "y": {"value": "height"}, "text": {"field": "date"}}},
                {"data": {"name": "notes"}, "transform": [{"filter": "datum.date == 'Jul 16'"}], "mark": {"type": "text", "align": "left", "baseline": "middle", "fontSize": 10, "font": "DejaVu Sans", "color": "#333"}, "encoding": {"text": {"field": "label"}}},
                {"data": {"name": "zlab"}, "transform": [{"filter": "datum.date == 'Jul 16'"}], "mark": {"type": "text", "align": "center", "baseline": "middle", "angle": 58, "fontSize": 10, "font": "DejaVu Sans", "color": "#222"}, "encoding": {"text": {"field": "label"}}}
              ]
            },
            {
              "layer": [
                {"data": {"name": "cells"}, "transform": [{"filter": "datum.date == 'Jul 16'"}], "mark": {"type": "text", "align": "right", "baseline": "middle", "fontSize": 9.5, "font": "DejaVu Sans", "color": "#222"},
                 "encoding": {"x": {"field": "column", "type": "nominal", "bandPosition": 1, "scale": {"type": "band", "domain": ["Mean (± SD)", "N", "SI"], "range": [325, 458.5], "paddingInner": 0, "paddingOuter": 0}, "axis": null},
                              "y": {"field": "slot", "type": "nominal", "scale": {"type": "point", "domain": ["cohorts", "rule1", "header", "rule2", "r1", "r2", "r3"], "range": [46, 115]}, "axis": null},
                              "text": {"field": "text"}}},
                {"data": {"name": "thead"}, "mark": {"type": "text", "align": "right", "baseline": "middle", "fontSize": 9.5, "font": "DejaVu Sans", "color": "#222"},
                 "encoding": {"x": {"field": "column", "type": "nominal", "bandPosition": 1}, "y": {"field": "slot", "type": "nominal"}, "text": {"field": "text"}}},
                {"data": {"name": "tcoh"}, "mark": {"type": "text", "align": "center", "baseline": "middle", "fontSize": 9.5, "font": "DejaVu Sans", "color": "#222"},
                 "encoding": {"x": {"field": "column", "type": "nominal", "bandPosition": 0.6}, "y": {"field": "slot", "type": "nominal"}, "text": {"field": "text"}}},
                {"data": {"name": "trule1"}, "mark": {"type": "rule", "color": "#999", "strokeWidth": 1},
                 "encoding": {"x": {"field": "column", "type": "nominal", "bandPosition": -0.74}, "x2": {"field": "column2", "bandPosition": 1}, "y": {"field": "slot", "type": "nominal"}}},
                {"data": {"name": "trule2"}, "mark": {"type": "rule", "color": "#999", "strokeWidth": 1},
                 "encoding": {"x": {"field": "column", "type": "nominal", "bandPosition": -0.787}, "x2": {"field": "column2", "bandPosition": 1.19}, "y": {"field": "slot", "type": "nominal"}}},
                {"data": {"name": "tdiv"}, "mark": {"type": "rule", "color": "#bdbdbd", "strokeWidth": 1},
                 "encoding": {"x": {"field": "column", "type": "nominal", "bandPosition": -0.787}}}
              ]
            }
          ]
        }
      ]
    },
    {
      "spacing": 30,
      "vconcat": [
        {
          "width": 390, "height": 31,
          "view": {"stroke": null},
          "data": {"values": [{"panel": "b"}]},
          "mark": {"type": "text", "fontSize": 34, "fontWeight": "bold", "dx": 7, "dy": 11.5, "color": "#111"},
          "encoding": {"text": {"field": "panel"}}
        },
        {
          "width": 390, "height": 403,
          "view": {"stroke": "#666", "strokeWidth": 1.5},
          "encoding": {
            "x": {"field": "L", "type": "quantitative", "scale": {"domain": [9, 15], "nice": false, "zero": false},
                  "axis": {"values": [9, 9.5, 10, 10.5, 11, 11.5, 12, 12.5, 13, 13.5, 14, 14.5, 15], "labelExpr": "datum.value % 1 == 0 ? format(datum.value, 'd') : ''", "title": "Carapace length (mm)", "titleFontSize": 29, "titlePadding": 13, "labelFontSize": 25, "labelPadding": 12, "tickSize": 6, "tickWidth": 1.5, "tickColor": "#333", "domainColor": "#333", "domainWidth": 1.5}},
            "y": {"field": "Z", "type": "quantitative", "scale": {"domain": [0, 0.8], "nice": false},
                  "axis": {"values": [0, 0.1, 0.2, 0.3, 0.4, 0.5, 0.6, 0.7, 0.8], "labelExpr": "round(datum.value * 10) % 2 == 0 ? format(datum.value, '.1f') : ''", "title": "Z (week⁻¹)", "titleFontSize": 29, "titlePadding": 12, "labelFontSize": 25, "labelPadding": 4, "tickSize": 6, "tickWidth": 1.5, "tickColor": "#333", "domainColor": "#333", "domainWidth": 1.5}}
          },
          "layer": [
            {"data": {"name": "fit"}, "mark": {"type": "line", "interpolate": "monotone", "color": "#111", "strokeWidth": 2}},
            {"data": {"name": "scatter"}, "mark": {"type": "circle", "color": "#000", "size": 110, "opacity": 1}}
          ]
        }
      ]
    }
  ]
}
